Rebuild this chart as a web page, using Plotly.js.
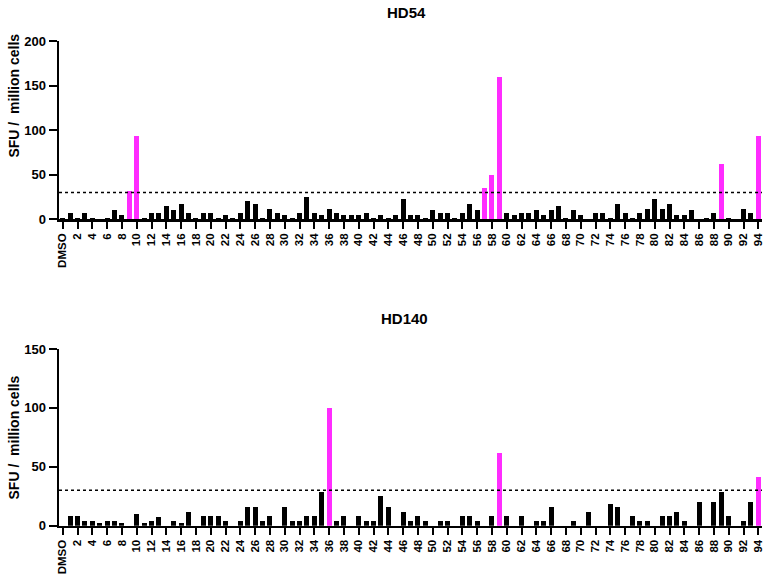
<!DOCTYPE html>
<html>
<head>
<meta charset="utf-8">
<script src="https://cdn.plot.ly/plotly-3.0.1.min.js"></script>
<style>html,body{margin:0;padding:0;background:#fff;}#chart{width:767px;height:583px;}</style>
</head>
<body>
<div id="chart"></div>
<script>
// ---- data ----
const categories = ['DMSO','1','2','3','4','5','6','7','8','9','10','11','12','13','14','15','16','17','18','19','20',
 '21','22','23','24','25','26','27','28','29','30','31','32','33','34','35','36','37','38','39','40',
 '41','42','43','44','45','46','47','48','49','50','51','52','53','54','55','56','57','58','59','60',
 '61','62','63','64','65','66','67','68','69','70','71','72','73','74','75','76','77','78','79','80',
 '81','82','83','84','85','86','87','88','89','90','91','92','93','94'];
const tickLabels = ['DMSO','2','4','6','8','10','12','14','16','18','20','22','24','26','28','30','32','34','36','38','40',
 '42','44','46','48','50','52','54','56','58','60','62','64','66','68','70','72','74','76','78','80',
 '82','84','86','88','90','92','94'];
const hd54 = [1,7,1,7,1,0,1,10,5,32,93,1,7,7,15,10,17.5,7,1,7,7,1,5,1,7,20,17.5,1,12,7,4.5,1,7,25,7,4.5,12,7,4.5,4.5,4.5,
 7,1,4.5,1,4.5,22.5,4.5,4.5,1,10,7,7,1,7,17.5,10,35,50,160,7,4.5,7,7,10,4.5,10,15,1,10,4.5,0,7,7,1,17.5,7,1,7,12,22.5,
 12,17.5,4.5,4.5,10,0,1,7,62.5,1,0,12,7,93];
const hd140 = [0,8,8,4,4,2,4,4,2,0,10,2,4,7,0,4,2,12,0,8,8,8,4,0,4,16,16,4,8,0,16,4,4,8,8,29,100,4,8,0,8,
 4,4,25,16,0,12,4,8,4,0,4,4,0,8,8,4,0,8,62,8,0,8,0,4,4,16,0,0,4,0,12,0,0,18,16,0,8,4,4,0,
 8,8,12,4,0,20,0,20,29,8,0,4,20,41];
const threshold = 30;
const panelTitles = ['HD54','HD140'];
const yTitle = 'SFU /  million cells';

// ---- styles ----
const BLACK = '#000000', MAGENTA = '#ff2cff';
const FONT = 'Liberation Sans, Arial, sans-serif';
const colorFor = arr => arr.map(v => v > threshold ? MAGENTA : BLACK);

const traces = [
  {type:'bar', x:categories, y:hd54, xaxis:'x', yaxis:'y', width:0.68,
   marker:{color:colorFor(hd54), line:{width:0}}, hoverinfo:'x+y'},
  {type:'bar', x:categories, y:hd140, xaxis:'x2', yaxis:'y2', width:0.68,
   marker:{color:colorFor(hd140), line:{width:0}}, hoverinfo:'x+y'}
];

function xAxis(anchor){
  return {anchor:anchor, domain:[0,1], type:'category', range:[-0.5,94.5],
    showline:true, linewidth:2.5, linecolor:BLACK, ticks:'outside', ticklen:7, tickwidth:2, tickcolor:BLACK,
    tickmode:'array', tickvals:tickLabels, ticktext:tickLabels, tickangle:-90,
    tickfont:{family:FONT, size:11.5, color:BLACK, weight:700},
    showgrid:false, zeroline:false, fixedrange:true};
}
function yAxis(anchor, domain, max){
  return {anchor:anchor, domain:domain, range:[0,max], tickmode:'linear', tick0:0, dtick:50,
    showline:true, linewidth:2.5, linecolor:BLACK, ticks:'outside', ticklen:8, tickwidth:2, tickcolor:BLACK,
    tickfont:{family:FONT, size:13, color:BLACK, weight:700},
    showgrid:false, zeroline:false, fixedrange:true};
}

const layout = {
  width:767, height:583, margin:{l:59, r:5, t:0, b:0},
  paper_bgcolor:'#fff', plot_bgcolor:'#fff', showlegend:false, bargap:0,
  xaxis:xAxis('y'), yaxis:yAxis('x',[0.6238,0.9297],200),
  xaxis2:xAxis('y2'), yaxis2:yAxis('x2',[0.0983,0.4014],150),
  shapes:[
    {type:'line', xref:'x domain', yref:'y', x0:0, x1:1, y0:threshold, y1:threshold,
     line:{color:BLACK, width:1.5, dash:'dot'}},
    {type:'line', xref:'x2 domain', yref:'y2', x0:0, x1:1, y0:threshold, y1:threshold,
     line:{color:BLACK, width:1.5, dash:'dot'}}
  ],
  annotations:[
    {text:panelTitles[0], xref:'paper', yref:'paper', x:0.4936, y:0.979, xanchor:'center', yanchor:'middle',
     showarrow:false, font:{family:FONT, size:15, color:BLACK, weight:700}},
    {text:panelTitles[1], xref:'paper', yref:'paper', x:0.4908, y:0.4545, xanchor:'center', yanchor:'middle',
     showarrow:false, font:{family:FONT, size:15, color:BLACK, weight:700}},
    {text:yTitle, xref:'paper', yref:'paper', x:-0.064, y:0.836, xanchor:'center', yanchor:'middle',
     textangle:-90, showarrow:false, font:{family:FONT, size:14, color:BLACK, weight:700}},
    {text:yTitle, xref:'paper', yref:'paper', x:-0.064, y:0.2496, xanchor:'center', yanchor:'middle',
     textangle:-90, showarrow:false, font:{family:FONT, size:14, color:BLACK, weight:700}}
  ]
};

Plotly.newPlot('chart', traces, layout, {displayModeBar:false, staticPlot:true});
</script>
</body>
</html>
